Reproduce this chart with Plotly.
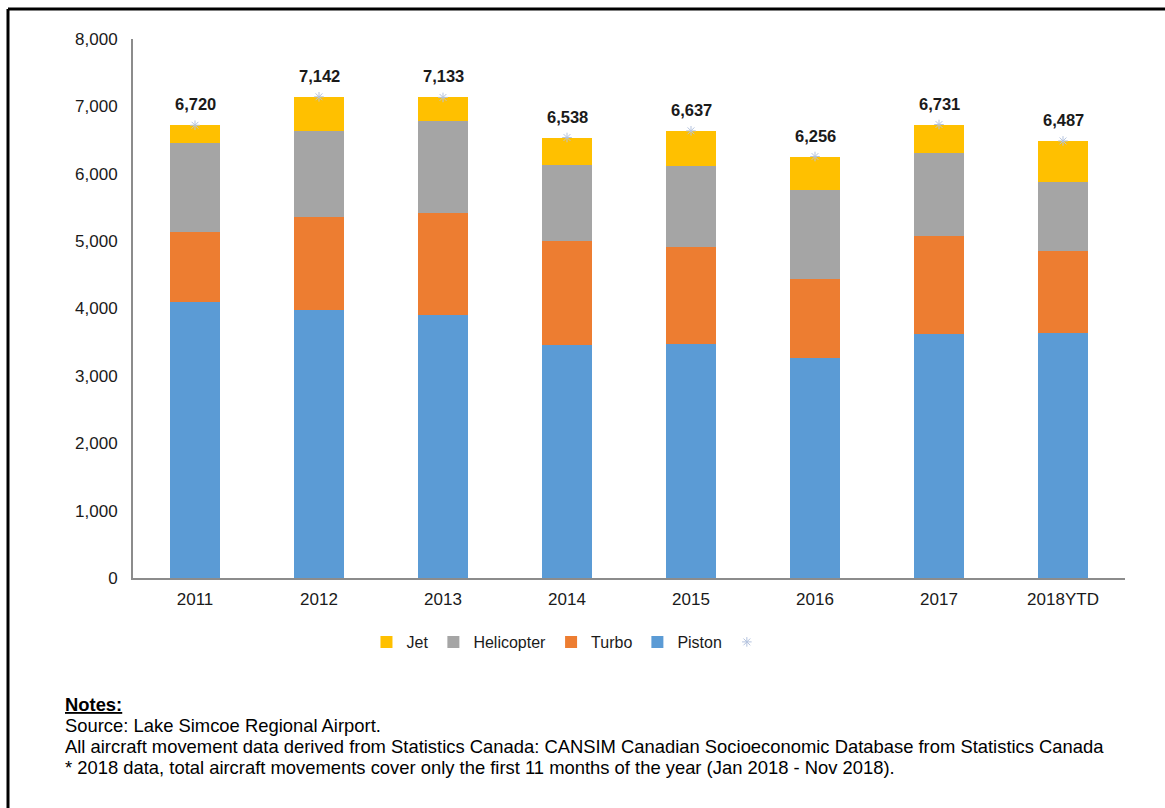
import plotly.graph_objects as go

# Aircraft movements by type, Lake Simcoe Regional Airport
years = ["2011", "2012", "2013", "2014", "2015", "2016", "2017", "2018YTD"]
piston = [4095, 3978, 3899, 3458, 3478, 3270, 3617, 3632]
turbo = [1045, 1375, 1514, 1544, 1435, 1163, 1464, 1217]
helicopter = [1320, 1281, 1370, 1128, 1202, 1321, 1222, 1033]
jet = [260, 508, 350, 408, 522, 502, 428, 605]
totals = [p + t + h + j for p, t, h, j in zip(piston, turbo, helicopter, jet)]

y_ticks = [0, 1000, 2000, 3000, 4000, 5000, 6000, 7000, 8000]

note_lines = [
    "<b><u>Notes:</u></b>",
    "Source: Lake Simcoe Regional Airport.",
    "All aircraft movement data derived from Statistics Canada: CANSIM Canadian "
    "Socioeconomic Database from Statistics Canada",
    "* 2018 data, total aircraft movements cover only the first 11 months of the "
    "year (Jan 2018 - Nov 2018).",
]

FONT = "Arial, Liberation Sans, sans-serif"
TEXT = "#1a1a1a"

# plot area in pixels
W, H = 1165, 808
L, R, T, B = 133, 40, 39, 230
pw, ph = W - L - R, H - T - B


def px_x(px):
    return (px - L) / pw


def px_y(py):
    return (H - B - py) / ph


# one slot per year on the x axis
pos = list(range(len(years)))

fig = go.Figure()

series = [
    ("Piston", piston, "#5B9BD5", 4),
    ("Turbo", turbo, "#ED7D31", 3),
    ("Helicopter", helicopter, "#A5A5A5", 2),
    ("Jet", jet, "#FFC000", 1),
]
for name, vals, color, rank in series:
    fig.add_trace(go.Bar(
        x=pos, y=vals, name=name, legendrank=rank,
        customdata=years, hovertemplate="%{customdata}: %{y:,}",
        marker=dict(color=color, line=dict(width=0)),
    ))

# total markers on top of each stack
fig.add_trace(go.Scatter(
    x=pos, y=totals, mode="markers", name="", legendrank=5,
    marker=dict(symbol="asterisk-open", size=8, color="#B4C3DE",
                line=dict(color="#B4C3DE", width=1)),
    cliponaxis=False, hoverinfo="skip",
))

annotations = []
for p, tot in zip(pos, totals):
    annotations.append(dict(
        x=p, y=tot, xref="x", yref="y", text=f"<b>{tot:,}</b>",
        showarrow=False, yanchor="bottom", yshift=10,
        font=dict(family=FONT, size=16.5, color=TEXT),
    ))

# notes block below the legend, one line per annotation
for i, line in enumerate(note_lines):
    annotations.append(dict(
        x=px_x(63), y=px_y(704 + 21.3 * i), xref="paper", yref="paper",
        xanchor="left", yanchor="middle", align="left", showarrow=False,
        text=line, font=dict(family=FONT, size=18.4, color="#000000"),
    ))

# page frame (top and left edges)
shapes = [
    dict(type="line", xref="paper", yref="paper",
         x0=px_x(8), x1=px_x(W + 5), y0=px_y(9), y1=px_y(9),
         line=dict(color="#000000", width=3)),
    dict(type="line", xref="paper", yref="paper",
         x0=px_x(8), x1=px_x(8), y0=px_y(9), y1=px_y(H + 5),
         line=dict(color="#000000", width=3)),
]

fig.update_layout(
    width=W, height=H,
    margin=dict(l=L, r=R, t=T, b=B),
    barmode="stack", bargap=0.6,
    plot_bgcolor="white", paper_bgcolor="white",
    font=dict(family=FONT, size=16, color=TEXT),
    showlegend=True,
    legend=dict(orientation="h", x=0.44, xanchor="center",
                y=px_y(625), yanchor="top", traceorder="normal",
                itemwidth=30, font=dict(size=16, color=TEXT)),
    annotations=annotations,
    shapes=shapes,
    xaxis=dict(type="linear", range=[-0.5, len(years) - 0.5],
               tickmode="array", tickvals=pos, ticktext=years,
               showline=True, linecolor="#8C8C8C", linewidth=2,
               ticks="", showgrid=False, zeroline=False,
               tickfont=dict(size=17), ticklabelstandoff=5),
    yaxis=dict(type="linear", range=[0, 8000], tickmode="array",
               tickvals=y_ticks, tickformat=",d",
               showline=True, linecolor="#8C8C8C", linewidth=2,
               ticks="", showgrid=False, zeroline=False,
               tickfont=dict(size=17), ticklabelstandoff=10),
)

fig.write_html("out.html")
